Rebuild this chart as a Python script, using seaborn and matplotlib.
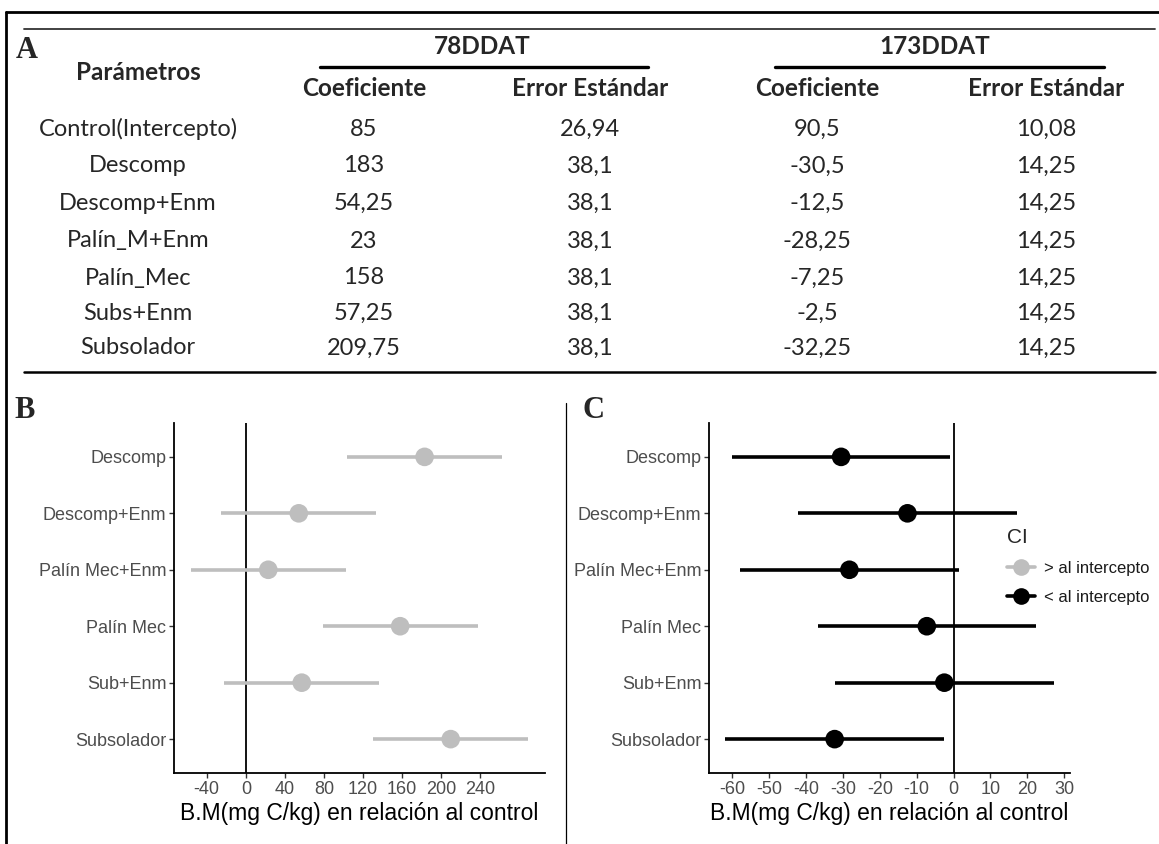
import matplotlib
matplotlib.use("Agg")
import matplotlib.pyplot as plt
from matplotlib.lines import Line2D
import numpy as np
import pandas as pd
import seaborn as sns

# ---- Table A: model coefficients -------------------------------------------
param_names = ["Control(Intercepto)", "Descomp", "Descomp+Enm", "Palín_M+Enm",
               "Palín_Mec", "Subs+Enm", "Subsolador"]
coef_78 = [85, 183, 54.25, 23, 158, 57.25, 209.75]
se_78 = [26.94, 38.1, 38.1, 38.1, 38.1, 38.1, 38.1]
coef_173 = [90.5, -30.5, -12.5, -28.25, -7.25, -2.5, -32.25]
se_173 = [10.08, 14.25, 14.25, 14.25, 14.25, 14.25, 14.25]

# ---- Panels B and C: treatment effects relative to the control ------------
treatments = ["Descomp", "Descomp+Enm", "Palín Mec+Enm", "Palín Mec",
              "Sub+Enm", "Subsolador"]
t_crit = 2.08  # t(0.975, 21 df)
ticks_b = [-40, 0, 40, 80, 120, 160, 200, 240]
ticks_c = [-60, -50, -40, -30, -20, -10, 0, 10, 20, 30]
ci_labels = ["> al intercepto", "< al intercepto"]
ci_colors = {"> al intercepto": "#BEBEBE", "< al intercepto": "black"}
xlabel = "B.M(mg C/kg) en relación al control"

W, H = 1159, 844
sns.set_theme(style="white")
plt.rcParams["font.family"] = ["Liberation Sans", "DejaVu Sans"]
plt.rcParams["axes.unicode_minus"] = False

fig = plt.figure(figsize=(W / 100, H / 100), dpi=100)
fig.patch.set_facecolor("white")

# full-figure canvas in pixel coordinates for the table and frame
bg = fig.add_axes([0, 0, 1, 1], zorder=0)
bg.set_xlim(0, W)
bg.set_ylim(H, 0)
bg.axis("off")

# frame and separators
bg.add_line(Line2D([6, W], [12, 12], color="black", lw=2.0))
bg.add_line(Line2D([6, 6], [12, H], color="black", lw=2.0))
bg.add_line(Line2D([566, 566], [403, H], color="black", lw=0.9))
bg.add_line(Line2D([24, 1155], [29, 29], color="#333333", lw=1.3))
bg.add_line(Line2D([24, 1155], [372, 372], color="black", lw=1.8))
bg.add_line(Line2D([320, 648], [67, 67], color="black", lw=2.4))
bg.add_line(Line2D([775, 1104], [67, 67], color="black", lw=2.4))

table_font = ["Lato", "DejaVu Sans"]
serif = ["Liberation Serif", "DejaVu Serif"]
fs_tab = 17
fs_head = 17.5

bg.text(16, 51, "A", fontsize=22, fontweight="bold", family=serif, va="center", ha="left")
bg.text(14, 410, "B", fontsize=22, fontweight="bold", family=serif, va="center", ha="left")
bg.text(566 + 16, 410, "C", fontsize=22, fontweight="bold", family=serif, va="center", ha="left")

bg.text(138, 72, "Parámetros", fontsize=fs_head, fontweight="bold", family=table_font, ha="center", va="center")
bg.text(482, 46, "78DDAT", fontsize=fs_head, fontweight="bold", family=table_font, ha="center", va="center")
bg.text(935, 46, "173DDAT", fontsize=fs_head, fontweight="bold", family=table_font, ha="center", va="center")
col_x = [138, 364, 590, 817, 1046]
for x, lab in zip(col_x[1:], ["Coeficiente", "Error Estándar", "Coeficiente", "Error Estándar"]):
    bg.text(x, 88, lab, fontsize=fs_head, fontweight="bold", family=table_font, ha="center", va="center")


def fmt(v):
    return f"{v:g}".replace(".", ",")


row_y = [129, 166, 203, 241, 278, 313, 348]
for y, name, a, b, c, d in zip(row_y, param_names, coef_78, se_78, coef_173, se_173):
    for x, s in zip(col_x, [name, fmt(a), fmt(b), fmt(c), fmt(d)]):
        bg.text(x, y, s, fontsize=fs_tab, family=table_font, ha="center", va="center")


def forest(ax, coefs, ses, ticks):
    df = pd.DataFrame({
        "tratamiento": treatments,
        "pos": np.arange(len(treatments)),
        "coef": coefs,
        "se": ses,
    })
    df["lo"] = df["coef"] - t_crit * df["se"]
    df["hi"] = df["coef"] + t_crit * df["se"]
    df["CI"] = np.where(df["coef"] > 0, ci_labels[0], ci_labels[1])

    ax.axvline(0, color="black", lw=1.3, zorder=1)
    for _, r in df.iterrows():
        ax.hlines(r["pos"], r["lo"], r["hi"], color=ci_colors[r["CI"]], lw=2.6, zorder=2)
    sns.scatterplot(data=df, x="coef", y="pos", hue="CI", palette=ci_colors,
                    s=180, edgecolor="none", legend=False, ax=ax, zorder=3)

    lo, hi = df["lo"].min(), df["hi"].max()
    pad = 0.05 * (hi - lo)
    ax.set_xlim(lo - pad, hi + pad)
    ax.set_ylim(len(treatments) - 0.4, -0.6)
    ax.set_xticks(ticks)
    ax.set_yticks(df["pos"])
    ax.set_yticklabels(df["tratamiento"])
    ax.set_xlabel(xlabel, fontsize=16.5, color="black", labelpad=3)
    ax.set_ylabel("")
    for side in ["top", "right"]:
        ax.spines[side].set_visible(False)
    for side in ["left", "bottom"]:
        ax.spines[side].set_color("black")
        ax.spines[side].set_linewidth(1.3)
    ax.tick_params(axis="both", which="both", length=3.5, width=1.0, color="#333333",
                   labelcolor="#4D4D4D", labelsize=13, left=True, bottom=True, pad=2)
    ax.set_facecolor("none")
    return df


ax_b = fig.add_axes([174 / W, 1 - 773 / H, (545 - 174) / W, 350 / H], zorder=1)
ax_c = fig.add_axes([709 / W, 1 - 773 / H, (1070 - 709) / W, 350 / H], zorder=1)
forest(ax_b, coef_78[1:], se_78[1:], ticks_b)
forest(ax_c, coef_173[1:], se_173[1:], ticks_c)

handles = [Line2D([], [], color=ci_colors[l], lw=2.6, marker="o", markersize=12,
                  markeredgewidth=0) for l in ci_labels]
leg = ax_c.legend(handles, ci_labels, title="CI", loc="upper left",
                  bbox_to_anchor=(997 / W, 1 - 518 / H), bbox_transform=fig.transFigure,
                  frameon=False, fontsize=12, title_fontsize=15, handlelength=1.7,
                  handletextpad=0.5, labelspacing=0.85, alignment="left",
                  borderaxespad=0.2)
for t in leg.get_texts():
    t.set_color("#1a1a1a")

fig.savefig("out.png", dpi=100)
